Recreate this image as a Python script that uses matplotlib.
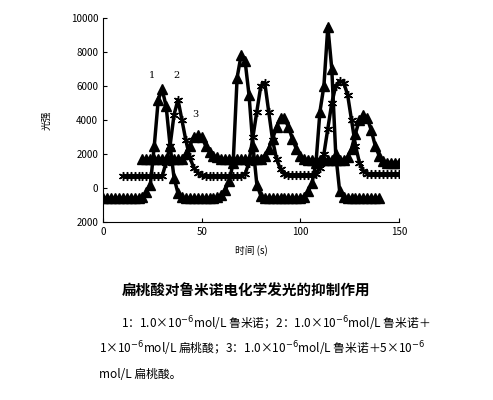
import numpy as np
import matplotlib.pyplot as plt

plt.rcParams['font.family'] = ['Noto Sans CJK SC', 'DejaVu Sans']

# curve 1: luminol only (x from 0, step 2 s)
c1_start = 0
c1_y = [-600] * 10 + [-500, -250, 200, 2500, 5200, 5800, 4800, 2500, 600, -300, -550] \
    + [-600] * 8 + [-550, -400, -100, 400, 1500, 6500, 7800, 7500, 5500, 2500, 200, -450] \
    + [-600] * 10 + [-500, -200, 300, 1500, 4500, 6000, 9500, 7000, 2000, -200, -550] \
    + [-600] * 9
# curve 2: + 1e-6 mandelic acid (x from 10)
c2_start = 10
c2_y = [700] * 11 + [1500, 2500, 4300, 5200, 4000, 2800, 1800, 1200, 900, 750] \
    + [700] * 10 + [800, 1500, 3000, 4500, 6000, 6200, 4500, 2800, 1700, 1100, 850, 750] \
    + [750] * 6 + [800, 1200, 2000, 3500, 5000, 6000, 6300, 6200, 5500, 4000, 2500, 1500, 1000, 850] \
    + [800] * 8
# curve 3: + 5e-6 mandelic acid (x from 20)
c3_start = 20
c3_y = [1700] * 11 + [2000, 2500, 3000, 3100, 3000, 2500, 2100, 1900, 1800] \
    + [1700] * 11 + [1900, 2300, 2900, 3600, 4100, 4100, 3600, 2900, 2300, 1900, 1700] \
    + [1650] * 10 + [1800, 2300, 3200, 4000, 4300, 4100, 3400, 2500, 1900, 1600, 1500] \
    + [1500] * 3

curve_labels = ['1', '2', '3']
label_x = [25, 37, 47]
label_y = [6500, 6500, 4200]

fig = plt.figure(figsize=(4.93, 4.0), dpi=100)
ax = fig.add_axes([0.209, 0.445, 0.6, 0.51])

for start, ys, mk in [(c1_start, c1_y, '^'), (c2_start, c2_y, (6, 2, 0)), (c3_start, c3_y, '^')]:
    xs = start + 2 * np.arange(len(ys))
    ax.plot(xs, ys, color='black', lw=2.5, marker=mk, ms=6.5)

for t, x, y in zip(curve_labels, label_x, label_y):
    ax.text(x, y, t, fontsize=7, ha='center', family='DejaVu Serif')

ax.set_xlim(0, 150)
ax.set_ylim(-2000, 10000)
ax.set_xticks([0, 50, 100, 150])
ax.set_yticks([-2000, 0, 2000, 4000, 6000, 8000, 10000])
ax.set_yticklabels(['2000', '0', '2000', '4000', '6000', '8000', '10000'])
ax.tick_params(direction='in', labelsize=7, length=3)
for s in ['top', 'right']:
    ax.spines[s].set_visible(False)
ax.set_xlabel('时间 (s)', fontsize=7, labelpad=6)
ax.set_ylabel('光强', fontsize=7, labelpad=14)

fig.text(0.5, 0.26, '扁桃酸对鲁米诺电化学发光的抑制作用', ha='center', fontsize=10.5, weight='bold')
lines = ['1：1.0×10$^{-6}$mol/L 鲁米诺；2：1.0×10$^{-6}$mol/L 鲁米诺＋',
         '1×10$^{-6}$mol/L 扁桃酸；3：1.0×10$^{-6}$mol/L 鲁米诺＋5×10$^{-6}$',
         'mol/L 扁桃酸。']
for i, ln in enumerate(lines):
    fig.text(0.245 if i == 0 else 0.2, 0.18 - i * 0.063, ln, fontsize=8.5)

fig.savefig('out.png', dpi=100)
